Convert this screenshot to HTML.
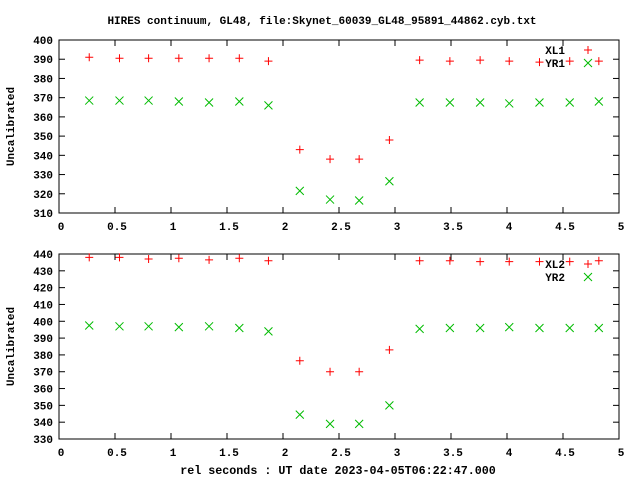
<!DOCTYPE html>
<html><head><meta charset="utf-8"><style>
html,body{margin:0;padding:0;background:#fff;}
svg{display:block;font-family:"Liberation Mono",monospace;font-size:11px;font-weight:bold;}
</style></head><body>
<svg id="chart" width="640" height="480" xmlns="http://www.w3.org/2000/svg">
<text x="322" y="24" text-anchor="middle">HIRES continuum, GL48, file:Skynet_60039_GL48_95891_44862.cyb.txt</text>
<text x="338" y="474" text-anchor="middle" style="font-size:11.7px">rel seconds : UT date 2023-04-05T06:22:47.000</text>
</svg>
<script>
const times = [0.27,0.54,0.80,1.07,1.34,1.61,1.87,2.15,2.42,2.68,2.95,3.22,3.49,3.76,4.02,4.29,4.56,4.82];
const xl1 = [391,390.5,390.5,390.5,390.5,390.5,389,343,338,338,348,389.5,389,389.5,389,388.5,389,389];
const yr1 = [368.5,368.5,368.5,368,367.5,368,366,321.5,317,316.5,326.5,367.5,367.5,367.5,367,367.5,367.5,368];
const xl2 = [438,438,437,437.5,436.5,437.5,436,376.5,370,370,383,436,436,435.5,435.5,435.5,435.5,436];
const yr2 = [397.5,397,397,396.5,397,396,394,344.5,339,339,350,395.5,396,396,396.5,396,396,396];
const xTicks = ["0","0.5","1","1.5","2","2.5","3","3.5","4","4.5","5"];
const yTicks1 = [310,320,330,340,350,360,370,380,390,400];
const yTicks2 = [330,340,350,360,370,380,390,400,410,420,430,440];

const svg = document.getElementById('chart');
const NS = 'http://www.w3.org/2000/svg';
function mk(tag, attrs, parent){const e=document.createElementNS(NS,tag);for(const k in attrs)e.setAttribute(k,attrs[k]);(parent||svg).appendChild(e);return e;}

function panel(id, top, bottom, ymin, ymax, yTicks, s1, s2, n1, n2, legY){
  const L=59,R=619;
  const g = mk('g',{});
  
  
  const X = v => L + (v-0)/(5-0)*(R-L);
  const Y = v => bottom - (v-ymin)/(ymax-ymin)*(bottom-top);
  const frame = mk('rect',{x:L,y:top,width:R-L,height:bottom-top,fill:'none',stroke:'#000','stroke-width':1},g);
  
  
  yTicks.forEach(t=>{
    const y=Y(t);
    mk('line',{x1:L,x2:L+6,y1:y,y2:y,stroke:'#000'},g);
    mk('line',{x1:R,x2:R-6,y1:y,y2:y,stroke:'#000'},g);
    const tx=mk('text',{x:L-6,y:y+4,'text-anchor':'end'},g);
    
    
    tx.textContent=t;
  });
  xTicks.forEach(t=>{
    const x=X(parseFloat(t));
    mk('line',{x1:x,x2:x,y1:bottom,y2:bottom-6,stroke:'#000'},g);
    mk('line',{x1:x,x2:x,y1:top,y2:top+6,stroke:'#000'},g);
    const tx=mk('text',{x:x+2,y:bottom+17,'text-anchor':'middle'},g);
    
    
    tx.textContent=t;
  });
  const yl=mk('text',{x:0,y:0,'text-anchor':'middle',transform:`translate(14,${(top+bottom)/2}) rotate(-90)`},g);
  
  
  yl.textContent='Uncalibrated';
  function plus(x,y,p){const e=mk('path',{d:`M${x-4},${y}h8M${x},${y-4}v8`,stroke:'#f00','stroke-width':1,fill:'none'},p);return e;}
  function cross(x,y,p){const e=mk('path',{d:`M${x-4},${y-4}l8,8M${x-4},${y+4}l8,-8`,stroke:'#0b0','stroke-width':1,fill:'none'},p);return e;}
  times.forEach((t,i)=>{
    const a=plus(X(t),Y(s1[i]),g);
    
    
    const b=cross(X(t),Y(s2[i]),g);
    
    
  });
  const lt1=mk('text',{x:565,y:legY+4,'text-anchor':'end'},g);
  
  
  lt1.textContent=n1;
  plus(588,legY,g);
  const lt2=mk('text',{x:565,y:legY+17,'text-anchor':'end'},g);
  
  
  lt2.textContent=n2;
  cross(588,legY+13,g);
}
panel('top-plot',40,213,310,400,yTicks1,xl1,yr1,'XL1','YR1',50);
panel('bottom-plot',254,439,330,440,yTicks2,xl2,yr2,'XL2','YR2',264);
</script>
</body></html>
